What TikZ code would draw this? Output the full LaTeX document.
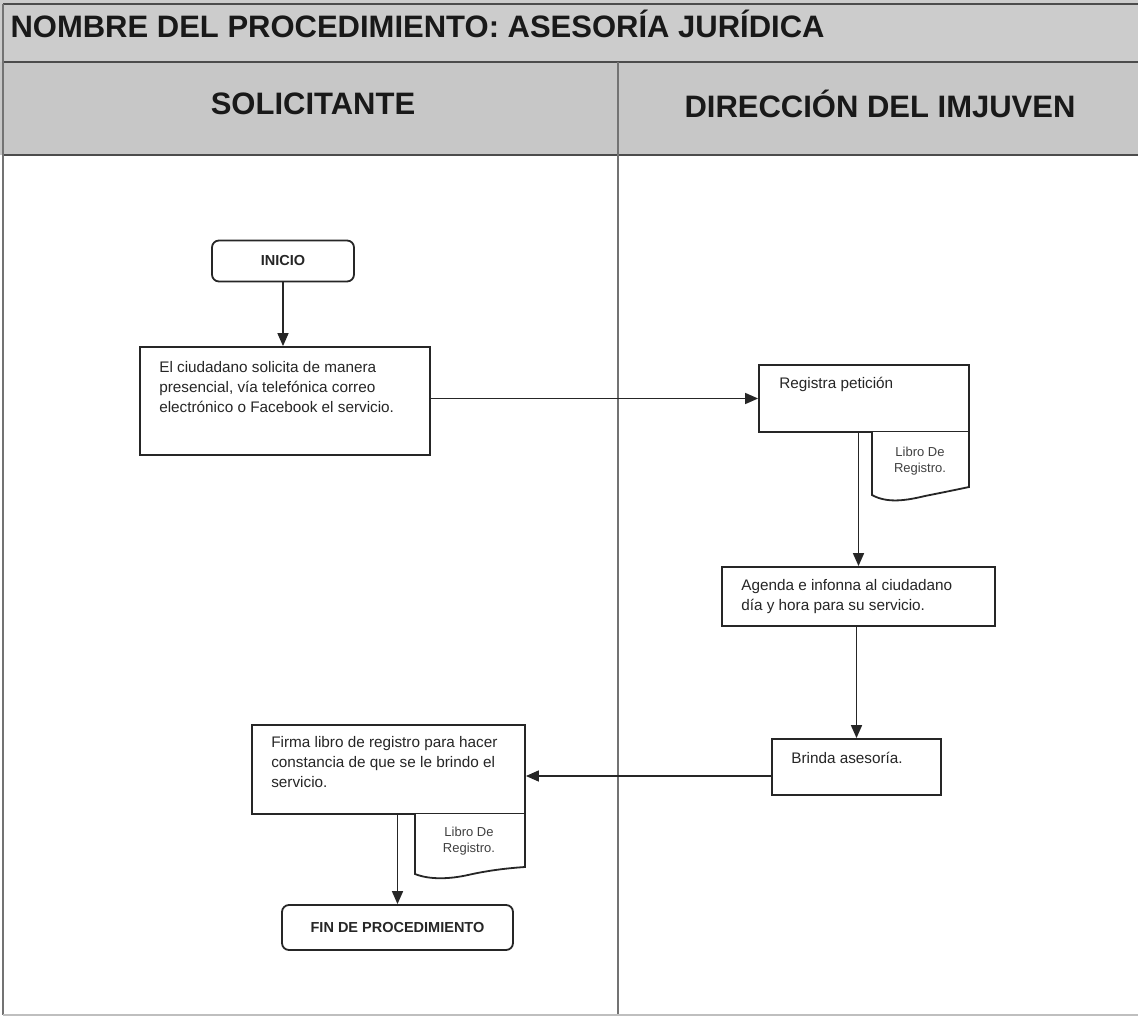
\documentclass[tikz,border=0pt]{standalone}
\usepackage{fontspec}
\setmainfont{Liberation Sans}
\usetikzlibrary{arrows.meta,calc}

\begin{document}
\begin{tikzpicture}[x=1pt,y=-1pt,
  bandline/.style={draw=black!70, line width=1.6pt},
  laneline/.style={draw=black!55, line width=1.1pt},
  procbox/.style={draw=black!85, line width=1.8pt, rectangle, inner sep=0pt, fill=white},
  termbox/.style={procbox, rounded corners=7pt, font=\fontsize{14.5}{16}\selectfont\bfseries, text=black!85},
  docshape/.style={draw=black!85, line width=1.8pt, fill=white},
  boxtext/.style={anchor=north west, inner sep=0pt, align=left, text=black!85, font=\fontsize{15.3}{20.3}\selectfont},
  doctext/.style={inner sep=0pt, align=center, text=black!75, font=\fontsize{13}{15.5}\selectfont},
  flow/.style={draw=black!85, line width=1.6pt, -{Triangle[length=13pt,width=11pt]}},
  heading/.style={font=\fontsize{31}{36}\selectfont\bfseries, text=black!90}
]
\useasboundingbox (0,0) rectangle (1138,1019);

% header bands
\fill[black!20] (0,0) rectangle (1138,62);
\fill[black!22] (0,62) rectangle (1138,155);
\draw[bandline] (3,4) -- (1138,4);
\draw[bandline] (3,62) -- (1138,62);
\draw[bandline] (3,155) -- (1138,155);
\draw[laneline] (3,4) -- (3,1015);
\draw[laneline] (618,62) -- (618,1015);
\draw[draw=black!25, line width=1.2pt] (3,1015) -- (1138,1015);

\node[heading, anchor=west] (title) at (7,24) {NOMBRE DEL PROCEDIMIENTO: ASESORÍA JURÍDICA};
\node[heading] (lane1) at (313,104) {SOLICITANTE};
\node[heading] (lane2) at (880,104) {DIRECCIÓN DEL IMJUVEN};

% solicitante
\node[termbox, minimum width=142pt, minimum height=41pt] (inicio) at (283,261) {INICIO};
\node[procbox, minimum width=290pt, minimum height=108pt] (solicita) at (285,401) {};
\node[boxtext] (solicitaTxt) at ($(solicita.north west)+(20,15)$)
  {El ciudadano solicita de manera\\presencial, vía telefónica correo\\electrónico o Facebook el servicio.};

% direccion
\node[procbox, minimum width=210pt, minimum height=67pt] (registra) at (864,398.5) {};
\node[boxtext] (registraTxt) at ($(registra.north west)+(21,13)$) {Registra petición};
\draw[docshape] (872,432) -- (872,495) .. controls (888,504) and (908,500) .. (925,496)
  .. controls (940,493) and (955,490) .. (969,487) -- (969,432);
\node[doctext] (libro1) at (920,461) {Libro De\\Registro.};

\node[procbox, minimum width=273pt, minimum height=59pt] (agenda) at (858.5,596.5) {};
\node[boxtext] (agendaTxt) at ($(agenda.north west)+(20,13)$)
  {Agenda e infonna al ciudadano\\día y hora para su servicio.};

\node[procbox, minimum width=169pt, minimum height=56pt] (brinda) at (856.5,767) {};
\node[boxtext] (brindaTxt) at ($(brinda.north west)+(20,14)$) {Brinda asesoría.};

% firma y fin
\node[procbox, minimum width=273pt, minimum height=89pt] (firma) at (388.5,769.5) {};
\node[boxtext] (firmaTxt) at ($(firma.north west)+(20,12)$)
  {Firma libro de registro para hacer\\constancia de que se le brindo el\\servicio.};
\draw[docshape] (415,814) -- (415,874) .. controls (430,880) and (450,879) .. (468,875)
  .. controls (490,870) and (510,868) .. (525,867) -- (525,814);
\node[doctext] (libro2) at (469,841) {Libro De\\Registro.};

\node[termbox, minimum width=231pt, minimum height=45pt] (fin) at (397.5,927.5) {FIN DE PROCEDIMIENTO};

% connectors
\draw[flow] (inicio.south) -- (inicio.south |- solicita.north);
\draw[flow] (registra.west -| solicita.east) -- (registra.west);
\draw[flow] (agenda.north |- registra.south) -- (agenda.north);
\draw[flow] (brinda.north |- agenda.south) -- (brinda.north);
\draw[flow] ([yshift=-9pt]brinda.west) -- ([yshift=-9pt]brinda.west -| firma.east);
\draw[flow] (fin.north |- firma.south) -- (fin.north);
\end{tikzpicture}
\end{document}
